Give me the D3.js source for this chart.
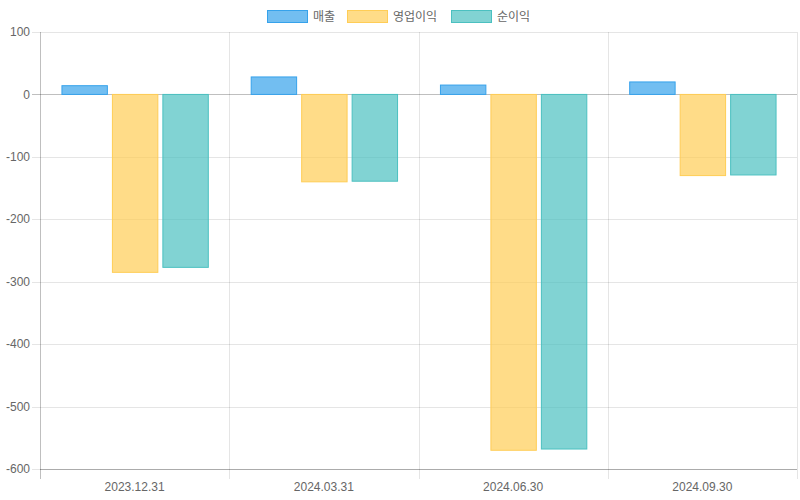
<!DOCTYPE html>
<html><head><meta charset="utf-8">
<script src="https://cdn.jsdelivr.net/npm/d3@7"></script>
<style>html,body{margin:0;padding:0;background:#fff;}svg{display:block;font-family:"Liberation Sans",Arial,"Noto Sans CJK KR",sans-serif;}</style>
</head><body>
<svg id="c" width="800" height="500"></svg>
<script>
const categories = ["2023.12.31","2024.03.31","2024.06.30","2024.09.30"];
const seriesNames = ["매출","영업이익","순이익"];
const revenue = [14, 28, 15, 20];
const operatingIncome = [-285, -140, -570, -130];
const netIncome = [-277, -139, -568, -129];
const yTicks = [100,0,-100,-200,-300,-400,-500,-600];
const fills = ["rgba(54,162,235,0.7)","rgba(255,205,86,0.7)","rgba(75,192,192,0.7)"];
const strokes = ["rgb(54,162,235)","rgb(255,205,86)","rgb(75,192,192)"];

const series = [revenue, operatingIncome, netIncome];
const svg = d3.select("#c");
const L = 40, R = 797, T = 32, B = 469;
const x = d3.scaleBand().domain(categories).range([L, R]).paddingInner(0).paddingOuter(0);
const y = d3.scaleLinear().domain([-600, 100]).range([B, T]);
const inner = d3.scaleBand().domain(d3.range(3)).range([0, x.bandwidth()*0.8]).paddingInner(0.1).paddingOuter(0.05);
const offset = x.bandwidth()*0.1 + 0.5;

// horizontal grid
svg.append("g").selectAll("line").data(yTicks).join("line")
  .attr("x1", L-8).attr("x2", R).attr("y1", d=>Math.round(y(d))+0.5).attr("y2", d=>Math.round(y(d))+0.5)
  .attr("stroke", d=> d===0 ? "rgba(0,0,0,0.25)" : "rgba(0,0,0,0.1)");
// vertical grid
const vx = categories.map(c=>x(c)).concat([R]);
svg.append("g").selectAll("line").data(vx).join("line")
  .attr("x1", d=>Math.round(d)+0.5).attr("x2", d=>Math.round(d)+0.5).attr("y1", T).attr("y2", B+10)
  .attr("stroke", (d,i)=> i===0 ? "rgba(0,0,0,0.25)" : "rgba(0,0,0,0.1)");
// bottom axis line
svg.append("line").attr("x1", L).attr("x2", R).attr("y1", B+0.5).attr("y2", B+0.5).attr("stroke","rgba(0,0,0,0.25)");

// y labels
svg.append("g").selectAll("text").data(yTicks).join("text")
  .attr("x", L-10).attr("y", d=>y(d)).attr("dy","0.35em").attr("text-anchor","end")
  .attr("font-size",12).attr("fill","#666").text(d=>d);
// x labels
svg.append("g").selectAll("text").data(categories).join("text")
  .attr("x", d=>x(d)+x.bandwidth()/2).attr("y", 487).attr("dy","0.35em").attr("text-anchor","middle")
  .attr("font-size",12).attr("fill","#666").text(d=>d);

// bars
series.forEach((vals, si) => {
  svg.append("g").selectAll("rect").data(vals).join("rect")
    .attr("x", (d,i)=> x(categories[i]) + offset + inner(si))
    .attr("width", inner.bandwidth())
    .attr("y", d=> Math.min(y(d), y(0)))
    .attr("height", d=> Math.abs(y(d)-y(0)))
    .attr("fill", fills[si]).attr("stroke", strokes[si]).attr("stroke-width",1);
});

// legend
const legendItems = [{x:267, tx:313},{x:347, tx:393},{x:451, tx:497}];
legendItems.forEach((it, i) => {
  svg.append("rect").attr("x", it.x+0.5).attr("y", 10.5).attr("width", 40).attr("height", 12)
    .attr("fill", fills[i]).attr("stroke", strokes[i]).attr("stroke-width",1);
  svg.append("text").attr("x", it.tx).attr("y", 16.5).attr("dy","0.35em").attr("font-size",12)
    .attr("fill","#666").text(seriesNames[i]);
});
</script>
</body></html>
